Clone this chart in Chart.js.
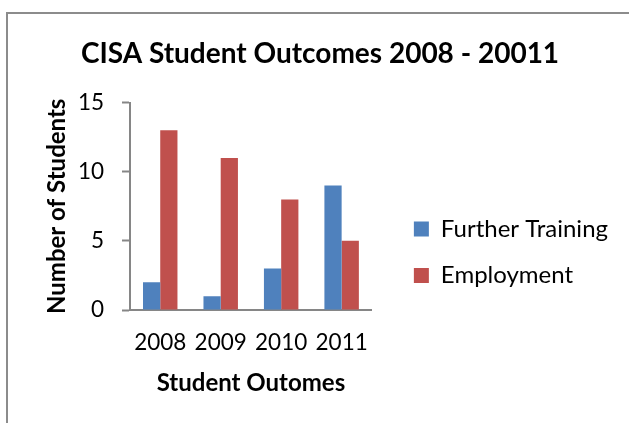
<!DOCTYPE html>
<html>
<head>
<meta charset="utf-8">
<script src="https://cdn.jsdelivr.net/npm/chart.js@4.4.0/dist/chart.umd.min.js"></script>
<style>
  html, body { margin: 0; padding: 0; background: #fff; }
  #wrap { position: relative; width: 629px; height: 423px; overflow: hidden; }
  #frame { position: absolute; left: 6px; top: 12px; width: 700px; height: 500px;
           border-left: 2px solid #8c8c8c; border-top: 2px solid #8c8c8c; }
  #c { position: absolute; left: 0; top: 0; }
</style>
</head>
<body>
<div id="wrap">
  <div id="frame"></div>
  <canvas id="c" width="629" height="423"></canvas>
</div>
<script>
const categories = ["2008", "2009", "2010", "2011"];
const furtherTraining = [2, 1, 3, 9];
const employment = [13, 11, 8, 5];
const seriesNames = ["Further Training", "Employment"];
const yTicks = [0, 5, 10, 15];

const FONT = "Lato";
const axisGray = "#868686";

new Chart(document.getElementById("c"), {
  type: "bar",
  data: {
    labels: categories,
    datasets: [
      { label: seriesNames[0], data: furtherTraining, backgroundColor: "#4F81BD",
        categoryPercentage: 0.57, barPercentage: 1.0 },
      { label: seriesNames[1], data: employment, backgroundColor: "#C0504D",
        categoryPercentage: 0.57, barPercentage: 1.0 }
    ]
  },
  options: {
    responsive: false,
    animation: false,
    devicePixelRatio: 1,
    layout: { padding: { left: 22, right: 11, top: 0, bottom: 25 } },
    plugins: {
      title: {
        display: true,
        text: "CISA Student Outcomes 2008 - 20011",
        color: "#000",
        font: { family: FONT, size: 28, weight: "bold" },
        padding: { top: 37, bottom: 32 }
      },
      legend: {
        position: "right",
        align: "end",
        fullSize: false,
        maxWidth: 320,
        labels: {
          color: "#000",
          font: { family: FONT, size: 24 },
          boxWidth: 15,
          boxHeight: 15,
          padding: 22.5
        }
      },
      tooltip: { enabled: false }
    },
    scales: {
      x: {
        grid: { display: false, drawTicks: false },
        border: { display: true, color: axisGray, width: 2 },
        ticks: { color: "#000", font: { family: FONT, size: 22.5 }, padding: 19, maxRotation: 0, autoSkip: false },
        title: {
          display: true, text: "Student Outomes", color: "#000",
          font: { family: FONT, size: 24, weight: "bold" },
          padding: { top: 0, bottom: 0 }
        },
        afterFit: (scale) => { scale.height = 88; }
      },
      y: {
        min: 0, max: 15,
        afterBuildTicks: (scale) => { scale.ticks = yTicks.map(v => ({ value: v })); },
        grid: { display: true, drawOnChartArea: false, drawTicks: true, tickLength: 8,
                tickColor: axisGray, tickWidth: 2, color: axisGray },
        border: { display: true, color: axisGray, width: 2 },
        ticks: { color: "#000", font: { family: FONT, size: 22.5 }, padding: 18 },
        title: {
          display: true, text: "Number of Students", color: "#000",
          font: { family: FONT, size: 24, weight: "bold" },
          padding: { top: 21, bottom: 0 }
        },
        afterFit: (scale) => { scale.width = 108; }
      },
      gap: {
        position: "right",
        display: true,
        grid: { display: false, drawTicks: false },
        border: { display: false },
        ticks: { display: false },
        afterFit: (scale) => { scale.width = 19.5; }
      }
    }
  }
});
</script>
</body>
</html>
